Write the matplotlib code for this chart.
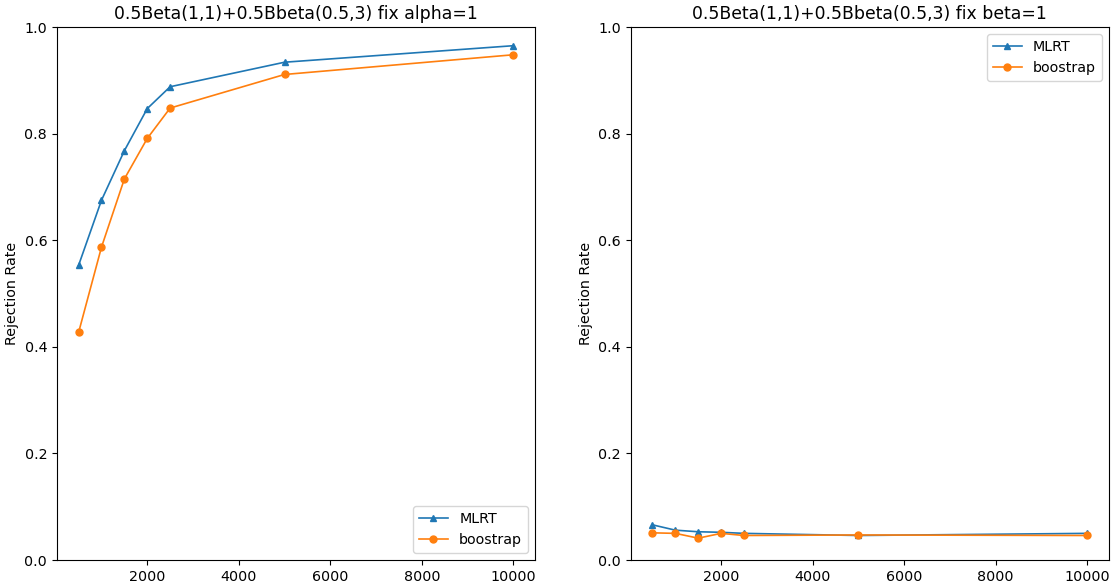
import matplotlib
matplotlib.use("Agg")
import matplotlib.pyplot as plt

sample_sizes = [500, 1000, 1500, 2000, 2500, 5000, 10000]

# fix alpha=1
mlrt_alpha = [0.553, 0.675, 0.768, 0.847, 0.888, 0.934, 0.965]
boot_alpha = [0.427, 0.587, 0.715, 0.791, 0.848, 0.911, 0.948]

# fix beta=1
mlrt_beta = [0.066, 0.056, 0.053, 0.052, 0.050, 0.046, 0.050]
boot_beta = [0.051, 0.050, 0.041, 0.050, 0.046, 0.047, 0.046]

plt.rcParams['font.size'] = 10.3

fig, (ax1, ax2) = plt.subplots(1, 2, figsize=(11.15, 5.88), dpi=100)
fig.subplots_adjust(left=0.051, right=0.9946, bottom=0.0476, top=0.954, wspace=0.2)

ax1.plot(sample_sizes, mlrt_alpha, marker='^', markersize=5, linewidth=1.2, label='MLRT')
ax1.plot(sample_sizes, boot_alpha, marker='o', markersize=5, linewidth=1.2, label='boostrap')
ax1.set_ylim(0, 1)
ax1.set_ylabel('Rejection Rate')
ax1.set_title('0.5Beta(1,1)+0.5Bbeta(0.5,3) fix alpha=1', fontsize=12.4)
ax1.legend(loc='lower right')

ax2.plot(sample_sizes, mlrt_beta, marker='^', markersize=5, linewidth=1.2, label='MLRT')
ax2.plot(sample_sizes, boot_beta, marker='o', markersize=5, linewidth=1.2, label='boostrap')
ax2.set_ylim(0, 1)
ax2.set_ylabel('Rejection Rate')
ax2.set_title('0.5Beta(1,1)+0.5Bbeta(0.5,3) fix beta=1', fontsize=12.4)
ax2.legend(loc='upper right')

plt.savefig('out.png')
